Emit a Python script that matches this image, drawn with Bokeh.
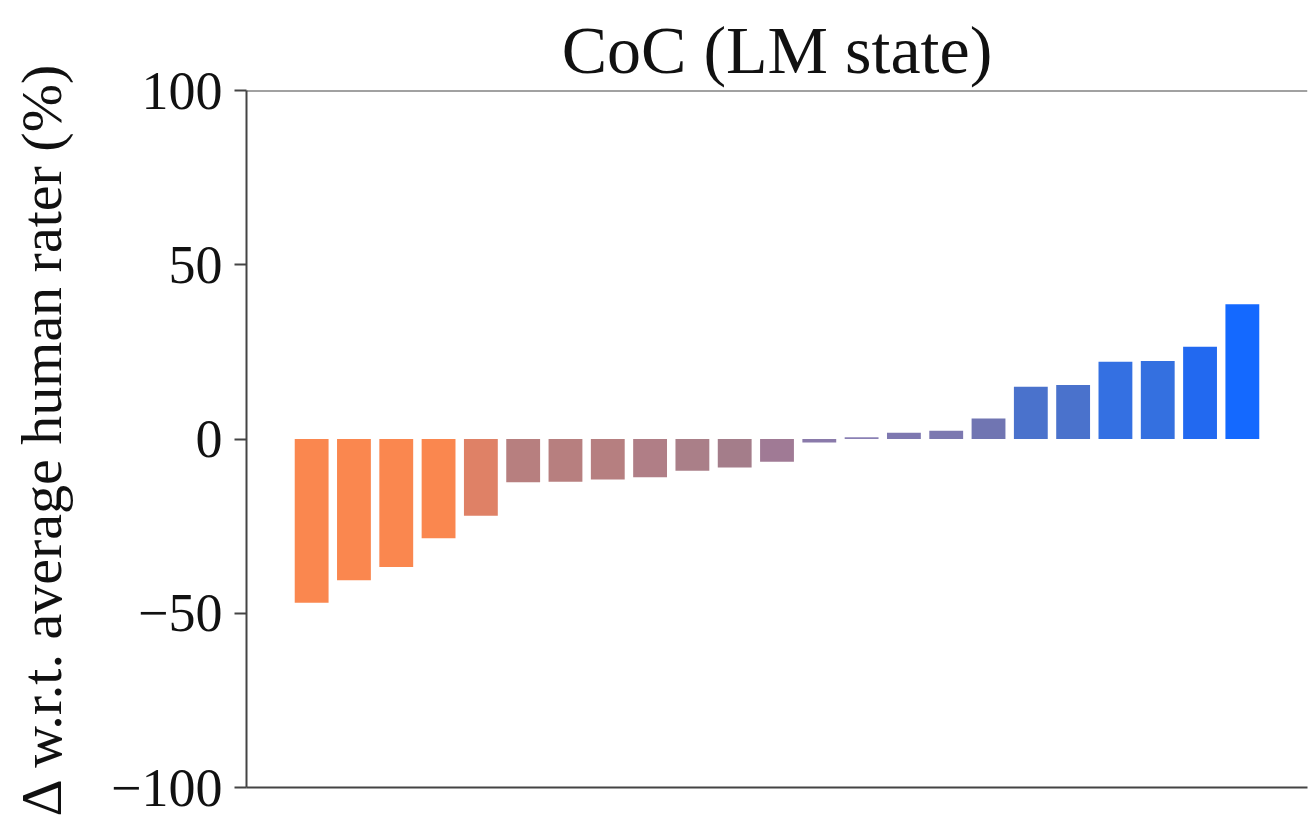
from bokeh.plotting import figure
from bokeh.models import Range1d, FixedTicker, Span, ColumnDataSource
from bokeh.embed import file_html
from bokeh.resources import INLINE

# ---- data ----
indices = list(range(23))
deltas = [-47.0, -40.5, -36.7, -28.5, -22.0, -12.4, -12.3, -11.6, -11.0, -9.1, -8.2, -6.5,
          -1.0, 0.5, 1.8, 2.4, 5.9, 15.0, 15.5, 22.2, 22.4, 26.5, 38.7]
bar_colors = ["#FA874F", "#FA874F", "#FA874F", "#FA874F", "#DF8166", "#B77F7F", "#B77F7F",
              "#B67F80", "#B07E86", "#AA7F88", "#A47D8A", "#A07A95", "#8A7AAA", "#8A80B4",
              "#7E78B0", "#7C78B0", "#7075B2", "#4A72CC", "#4A72CC", "#3470E2", "#3470E0",
              "#2269F0", "#1469FF"]
y_ticks = [-100, -50, 0, 50, 100]
y_tick_labels = {-100: "\u2212100", -50: "\u221250", 0: "0", 50: "50", 100: "100"}
title_text = "CoC (LM state)"
y_label = "\u0394 w.r.t. average human rater (%)"

FONT = "Liberation Serif"

p = figure(width=1312, height=816, output_backend="svg", toolbar_location=None,
           x_range=Range1d(-1.54, 23.54), y_range=Range1d(-100, 100),
           title=title_text, min_border_left=246, min_border_right=5,
           min_border_top=90, min_border_bottom=29)

src = ColumnDataSource(dict(x=indices, top=deltas, color=bar_colors))
p.vbar(x="x", top="top", bottom=0, width=0.8, color="color", source=src, line_color=None)

p.grid.visible = False
p.outline_line_color = None
p.background_fill_color = "white"
p.border_fill_color = "white"

p.title.text_font = FONT
p.title.text_font_size = "68px"
p.title.text_font_style = "normal"
p.title.align = "center"
p.title.text_color = "#111111"
p.title.standoff = 6

ax = p.yaxis[0]
ax.ticker = FixedTicker(ticks=y_ticks)
ax.major_label_overrides = y_tick_labels
ax.major_label_text_font = FONT
ax.major_label_text_font_size = "54px"
ax.major_label_text_color = "#111111"
ax.major_tick_out = 12
ax.major_tick_in = 0
ax.minor_tick_out = 0
ax.minor_tick_in = 0
ax.major_tick_line_width = 2
ax.major_tick_line_color = "#444444"
ax.axis_line_width = 2
ax.axis_line_color = "#444444"
ax.major_label_standoff = 12
ax.axis_label = y_label
ax.axis_label_text_font = FONT
ax.axis_label_text_font_size = "58px"
ax.axis_label_text_font_style = "normal"
ax.axis_label_text_color = "#111111"
ax.axis_label_standoff = 34

bx = p.xaxis[0]
bx.ticker = FixedTicker(ticks=[])
bx.major_tick_line_color = None
bx.minor_tick_line_color = None
bx.major_label_text_font_size = "0px"
bx.axis_line_width = 2
bx.axis_line_color = "#444444"

p.add_layout(Span(location=100, dimension="width", line_color="#444444", line_width=2))

open("out.html", "w").write(file_html(p, INLINE))
